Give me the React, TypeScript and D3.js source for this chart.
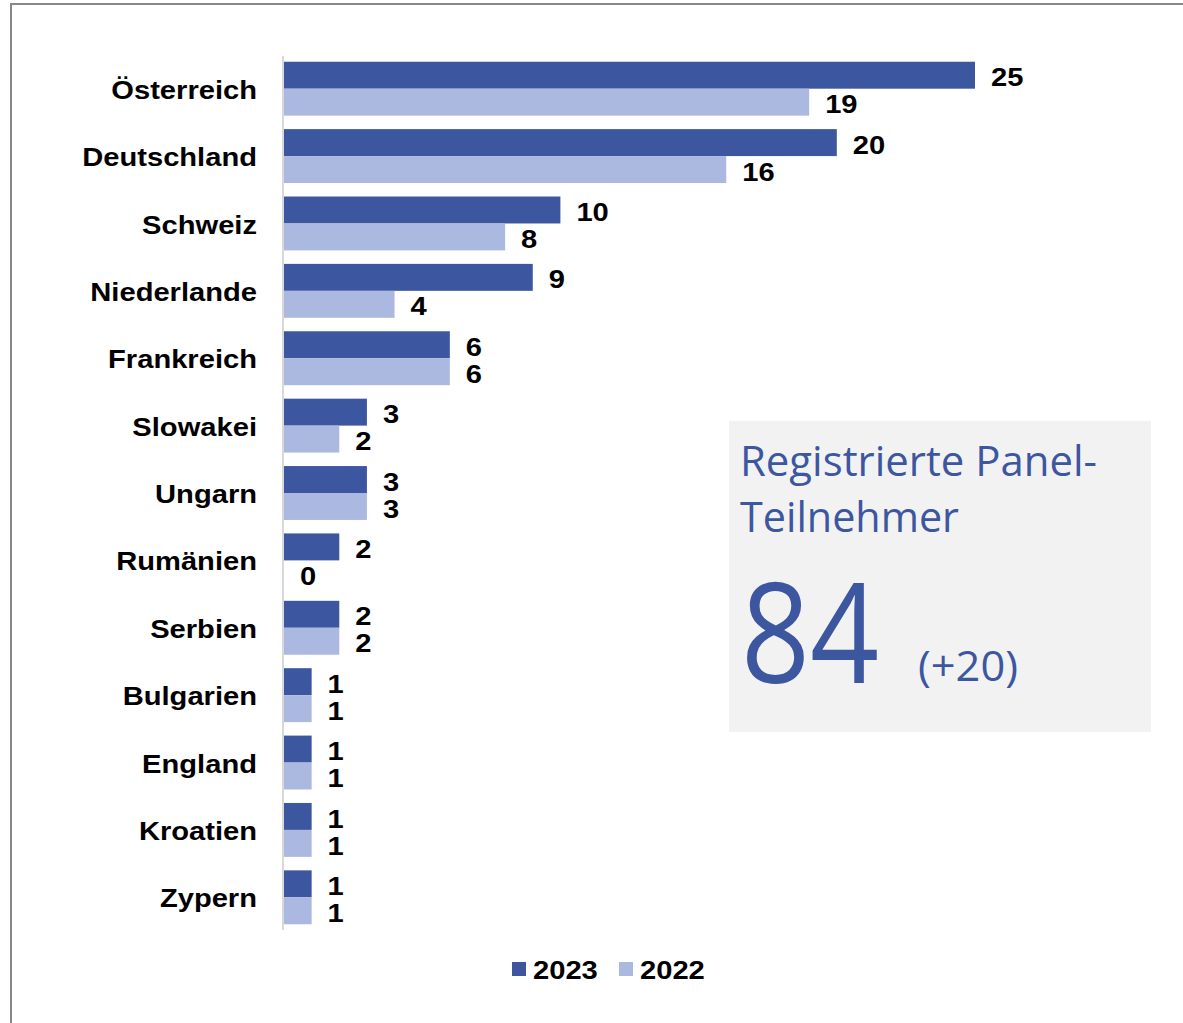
import React, { useEffect, useRef } from "react";
import * as d3 from "d3";

const countries = [
  "Österreich",
  "Deutschland",
  "Schweiz",
  "Niederlande",
  "Frankreich",
  "Slowakei",
  "Ungarn",
  "Rumänien",
  "Serbien",
  "Bulgarien",
  "England",
  "Kroatien",
  "Zypern",
];
const values2023 = [25, 20, 10, 9, 6, 3, 3, 2, 2, 1, 1, 1, 1];
const values2022 = [19, 16, 8, 4, 6, 2, 3, 0, 2, 1, 1, 1, 1];
const seriesNames = ["2023", "2022"];
const seriesColors = ["#3C56A0", "#ABB9E1"];

const boxTitle = ["Registrierte Panel-", "Teilnehmer"];
const boxTotal = "84";
const boxDelta = "(+20)";

const App: React.FC = () => {
  const ref = useRef<SVGSVGElement | null>(null);

  useEffect(() => {
    if (!ref.current) return;
    const svg = d3.select(ref.current);
    svg.selectAll("*").remove();

    const W = 1183;
    const H = 1023;
    const font = "'Liberation Sans', Arial, sans-serif";
    const fs = 26;
    const stretch = 1.12; // reference text is a bit wider than Arial

    const widen = (sel: d3.Selection<SVGTextElement, any, any, any>) => {
      sel.each(function () {
        const len = this.getComputedTextLength();
        d3.select(this)
          .attr("textLength", len * stretch)
          .attr("lengthAdjust", "spacingAndGlyphs");
      });
    };

    // outer frame (runs off the right and bottom edge)
    svg
      .append("rect")
      .attr("x", 11)
      .attr("y", 4)
      .attr("width", W + 20)
      .attr("height", H + 20)
      .attr("fill", "#fff")
      .attr("stroke", "#888")
      .attr("stroke-width", 2);

    const x = d3.scaleLinear().domain([0, 25]).range([284, 975]);
    const y = d3
      .scaleBand()
      .domain(countries)
      .range([55, 931])
      .paddingInner(0.2)
      .paddingOuter(0.1);
    const sub = d3
      .scaleBand()
      .domain(seriesNames)
      .range([0, y.bandwidth()]);

    const series = [values2023, values2022];

    const g = svg.append("g");

    series.forEach((vals, si) => {
      g.append("g")
        .selectAll("rect")
        .data(countries)
        .join("rect")
        .attr("x", x(0))
        .attr("y", (d) => (y(d) ?? 0) + (sub(seriesNames[si]) ?? 0))
        .attr("width", (_, i) => x(vals[i]) - x(0))
        .attr("height", sub.bandwidth())
        .attr("fill", seriesColors[si]);

      g.append("g")
        .selectAll("text")
        .data(countries)
        .join("text")
        .attr("x", (_, i) => x(vals[i]) + 16)
        .attr(
          "y",
          (d) =>
            (y(d) ?? 0) + (sub(seriesNames[si]) ?? 0) + sub.bandwidth() / 2 + 2
        )
        .attr("dy", "0.35em")
        .attr("font-family", font)
        .attr("font-size", fs)
        .attr("font-weight", "bold")
        .attr("fill", "#000")
        .text((_, i) => String(vals[i]))
        .call(widen);
    });

    // vertical axis line
    g.append("line")
      .attr("x1", x(0) - 1)
      .attr("x2", x(0) - 1)
      .attr("y1", 56)
      .attr("y2", 930)
      .attr("stroke", "#d9d9d9")
      .attr("stroke-width", 2);

    // category labels
    g.append("g")
      .selectAll("text")
      .data(countries)
      .join("text")
      .attr("x", 257)
      .attr("y", (d) => (y(d) ?? 0) + y.bandwidth() / 2 + 1)
      .attr("dy", "0.35em")
      .attr("text-anchor", "end")
      .attr("font-family", font)
      .attr("font-size", fs)
      .attr("font-weight", "bold")
      .attr("fill", "#000")
      .text((d) => d)
      .call(widen);

    // legend
    const legend = svg.append("g");
    const legendX = [512, 619];
    seriesNames.forEach((name, i) => {
      legend
        .append("rect")
        .attr("x", legendX[i])
        .attr("y", 962)
        .attr("width", 14)
        .attr("height", 14)
        .attr("fill", seriesColors[i]);
      legend
        .append("text")
        .attr("x", legendX[i] + 21)
        .attr("y", 970)
        .attr("dy", "0.35em")
        .attr("font-family", font)
        .attr("font-size", fs)
        .attr("font-weight", "bold")
        .attr("fill", "#000")
        .text(name)
        .call(widen);
    });

    // info box
    const box = svg.append("g");
    box
      .append("rect")
      .attr("x", 729)
      .attr("y", 421)
      .attr("width", 422)
      .attr("height", 311)
      .attr("fill", "#f2f2f2");
    const boxFont = "'Open Sans', 'Noto Sans', sans-serif";
    boxTitle.forEach((line, i) => {
      box
        .append("text")
        .attr("x", 740)
        .attr("y", 476 + i * 56)
        .attr("font-family", boxFont)
        .attr("font-size", 42)
        .attr("font-weight", 400)
        .attr("fill", "#3C56A0")
        .attr("textLength", i === 0 ? 357 : 219)
        .attr("lengthAdjust", "spacingAndGlyphs")
        .text(line);
    });
    box
      .append("text")
      .attr("x", 741)
      .attr("y", 683)
      .attr("font-family", boxFont)
      .attr("font-size", 140)
      .attr("font-weight", 400)
      .attr("fill", "#3C56A0")
      .attr("textLength", 138)
      .attr("lengthAdjust", "spacingAndGlyphs")
      .text(boxTotal);
    box
      .append("text")
      .attr("x", 918)
      .attr("y", 681)
      .attr("font-family", boxFont)
      .attr("font-size", 42)
      .attr("font-weight", 400)
      .attr("fill", "#3C56A0")
      .attr("textLength", 100)
      .attr("lengthAdjust", "spacingAndGlyphs")
      .text(boxDelta);
  }, []);

  return (
    <svg
      ref={ref}
      width={1183}
      height={1023}
      style={{ position: "absolute", left: 0, top: 0, display: "block" }}
    />
  );
};

export default App;
